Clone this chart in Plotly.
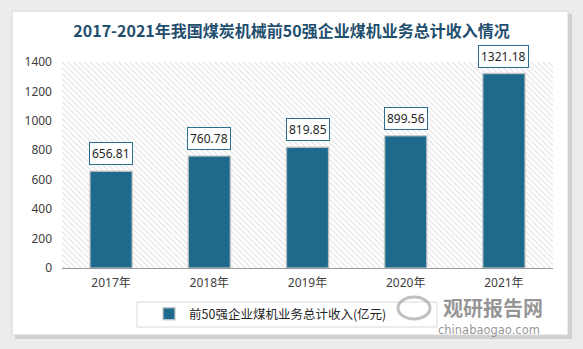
import plotly.graph_objects as go

# ---- data ----
years = ["2017年", "2018年", "2019年", "2020年", "2021年"]
revenue = [656.81, 760.78, 819.85, 899.56, 1321.18]
y_ticks = [0, 200, 400, 600, 800, 1000, 1200, 1400]
title_text = "2017-2021年我国煤炭机械前50强企业煤机业务总计收入情况"
series_name = "前50强企业煤机业务总计收入(亿元)"

W, H = 583, 349
L, R, T, B = 62, 30, 62, 81
PW = W - L - R
PH = H - T - B


def px_x(px):
    return (px - L) / PW


def px_y(py):
    return (H - B - py) / PH


BAR = "#1d6a8c"
FONT = "Noto Sans, Noto Sans CJK SC, sans-serif"

fig = go.Figure()

# hatched plot-area background (decoration on the base axes)
fig.add_trace(go.Bar(
    x=[0.5], y=[1], width=[1], xaxis="x", yaxis="y",
    marker=dict(color="white", line=dict(width=0),
                pattern=dict(shape="\\", fgcolor="#bdbdbd", bgcolor="white",
                             size=4, solidity=0.25, fillmode="overlay")),
    showlegend=False, hoverinfo="skip",
))

# data bars on overlay axes
fig.add_trace(go.Bar(
    x=years, y=revenue, name=series_name, xaxis="x2", yaxis="y2",
    width=0.43,
    marker=dict(color=BAR, line=dict(color="rgba(200,200,200,0.8)", width=1.5)),
))

annotations = []
for yr, v in zip(years, revenue):
    annotations.append(dict(
        x=yr, y=v, xref="x2", yref="y2", text=f"{v:.2f}", showarrow=False,
        yanchor="bottom", yshift=6, bgcolor="white", bordercolor="#2c6e8f",
        borderwidth=1, borderpad=2, font=dict(family=FONT, size=12, color="#262626"),
    ))

# watermark
annotations.append(dict(
    x=px_x(442), y=px_y(292), xref="paper", yref="paper",
    text="<b>观研报告网</b>", showarrow=False, xanchor="left", yanchor="top",
    borderpad=0,
    font=dict(family="Noto Sans CJK SC", size=20, color="rgba(130,130,130,0.85)"),
))
annotations.append(dict(
    x=px_x(437), y=px_y(322), xref="paper", yref="paper",
    text="chinabaogao.com", showarrow=False, xanchor="left", yanchor="top",
    borderpad=0,
    font=dict(family="DejaVu Sans", size=11.5, color="rgba(130,130,130,0.85)"),
))

shapes = [
    # card shadow
    dict(type="rect", xref="paper", yref="paper", layer="below",
         x0=px_x(15), x1=px_x(572), y0=px_y(339), y1=px_y(14),
         fillcolor="#cfcfcf", line=dict(width=0)),
    # white card
    dict(type="rect", xref="paper", yref="paper", layer="below",
         x0=px_x(12), x1=px_x(568), y0=px_y(335), y1=px_y(11),
         fillcolor="white", line=dict(color="#d6d6d6", width=1)),
    # legend box
    dict(type="rect", xref="paper", yref="paper", layer="above",
         x0=px_x(137), x1=px_x(437), y0=px_y(327), y1=px_y(302),
         fillcolor="rgba(0,0,0,0)", line=dict(color="#d9d9d9", width=1)),
    # watermark logo
    dict(type="circle", xref="paper", yref="paper", layer="above",
         x0=px_x(398), x1=px_x(430), y0=px_y(319), y1=px_y(297),
         fillcolor="rgba(0,0,0,0)", line=dict(color="rgba(150,150,150,0.6)", width=3)),
]

fig.update_layout(
    width=W, height=H, autosize=False,
    margin=dict(l=L, r=R, t=T, b=B),
    paper_bgcolor="#ececec", plot_bgcolor="rgba(0,0,0,0)",
    title=dict(text=title_text, x=0.5, xref="container", xanchor="center",
               y=1 - 31 / H, yref="container", yanchor="middle",
               font=dict(family="Noto Sans CJK SC", size=16, color="#1f4e6e",
                         weight="bold")),
    barmode="overlay",
    xaxis=dict(range=[0, 1], visible=False, fixedrange=True),
    yaxis=dict(range=[0, 1], visible=False, fixedrange=True),
    xaxis2=dict(overlaying="x", anchor="y2", side="bottom", type="category",
                showline=True, linecolor="#9a9a9a", linewidth=1, ticks="",
                showgrid=False, ticklabelstandoff=4,
                tickfont=dict(family=FONT, size=12, color="#404040")),
    yaxis2=dict(overlaying="y", anchor="x2", side="left", range=[0, 1400],
                tickvals=y_ticks, showline=False, showgrid=False, zeroline=False,
                ticks="", ticklabelstandoff=9,
                tickfont=dict(family=FONT, size=12, color="#404040")),
    showlegend=True,
    legend=dict(orientation="h", x=px_x(149), y=px_y(314), xanchor="left",
                yanchor="middle", bgcolor="rgba(0,0,0,0)", borderwidth=0,
                font=dict(family="Noto Sans CJK SC", size=12.5, color="#262626")),
    annotations=annotations,
    shapes=shapes,
)

fig.write_html("out.html")
